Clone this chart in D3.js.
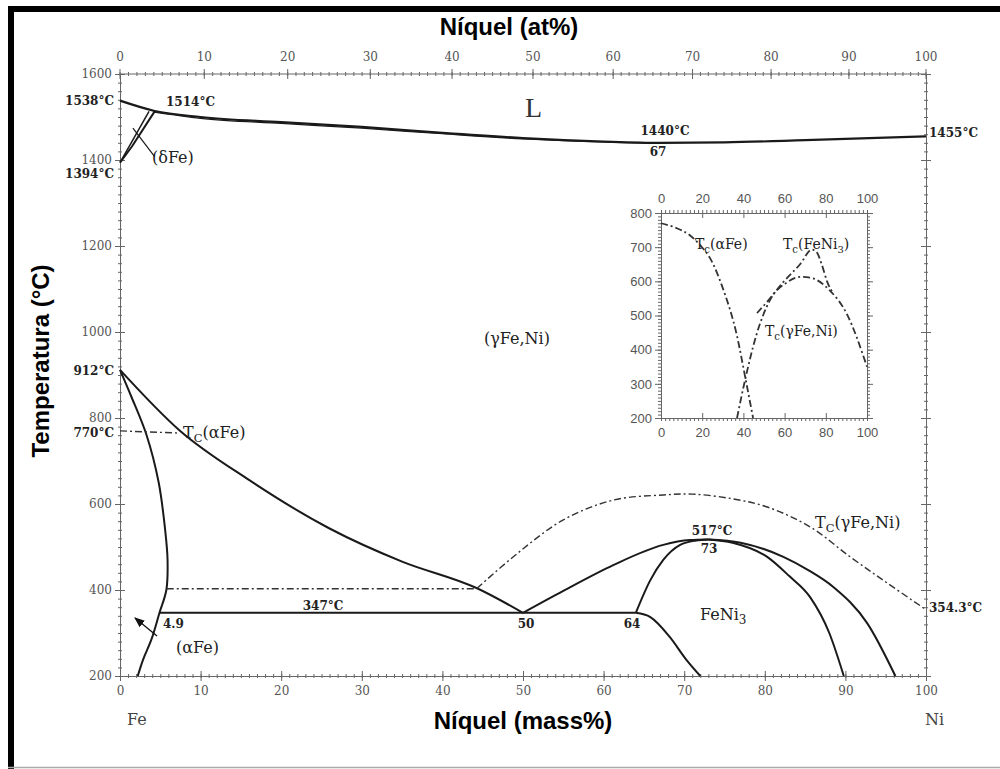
<!DOCTYPE html>
<html><head><meta charset="utf-8">
<script src="https://cdn.jsdelivr.net/npm/d3@7"></script>
<style>body{margin:0;background:#fff}svg{display:block}</style>
</head><body>
<svg id="c" width="1000" height="769"></svg>
<script>
// ---------- data ----------
const massTicks = [0,10,20,30,40,50,60,70,80,90,100];
const atTicks = [0,10,20,30,40,50,60,70,80,90,100];
const tempTicks = [200,400,600,800,1000,1200,1400,1600];
const insetXTicks = [0,20,40,60,80,100];
const insetYTicks = [200,300,400,500,600,700,800];

// solid phase boundaries (mass% Ni, °C)
const liquidus = [[0,1538],[4.3,1514],[10,1500],[20,1488],[30,1477],[40,1463],[50,1451],[60,1443],[67,1440],[75,1441],[85,1446],[100,1455]];
const solidus = [[4.1,1512],[10,1497],[20,1485],[30,1474],[40,1461],[50,1449],[60,1441.5],[67,1439]];
const deltaBoundA = [[3.6,1513],[0,1394]];
const deltaBoundB = [[4.3,1513],[1.5,1432],[0,1394]];
const deltaLeader = [[1.6,1474],[4.3,1408]];
const gammaBound = [[0,912],[7.4,771],[16,656],[26,543],[35,466],[44.3,404],[50,347]];
const alphaBound = [[0,912],[1.4,850],[3.3,760],[4.8,650],[5.6,540],[5.9,470],[5.75,400],[4.9,347],[3.9,285],[2.9,240],[2.2,200]];
const eutectoid = [[4.9,347],[64,347]];
const order50 = [[50,347],[55,398],[61.2,458],[67.4,505],[70.7,516],[73,517.5]];
const order64 = [[64,347],[65.8,423],[67.4,470],[69.5,505],[71.5,515],[73,517.5]];
const lower64 = [[64,347],[65.8,337],[68.2,291],[70.3,237],[72,200]];
const rightInner = [[73,517.5],[76,510],[80.3,477],[83,433],[85.6,384],[88,300],[89.8,200]];
const rightOuter = [[73,517.5],[77,510],[82.3,477],[85.5,445],[88.5,407],[92.7,323],[96.2,200]];
// magnetic (dash-dot)
const tcAlpha = [[0,770],[7.4,765]];
const line400 = [[5.8,403],[44.3,403]];
const tcGamma = [[44.3,404],[49.3,485],[55,563],[61.2,609],[67.4,621],[71,623],[76,612],[80.3,593],[85.6,547],[90.6,477],[95.2,416],[100,354.3]];
// inset (at% Ni, °C)
const insetAlpha = [[0,770],[7,757],[14,735],[19,706],[23.8,668],[30,580],[36.9,440],[40.8,322],[44.7,200]];
const insetGamma = [[36.9,200],[40.8,311],[46.6,449],[52.9,545],[61.2,597],[68,613],[72.3,611],[82,573],[90,507],[100,350]];
const insetFeNi3 = [[46.6,507],[51.5,540],[59.2,597],[67.5,650],[73.3,693],[75.5,686],[78,650],[80.6,600],[83,570]];

// ---------- scales ----------
const svg = d3.select('#c');
const x = d3.scaleLinear().domain([0,100]).range([120,926]);
const y = d3.scaleLinear().domain([200,1600]).range([676,74]);
const at2mass = a => 100*a*58.69/(a*58.69+(100-a)*55.845);
const xi = d3.scaleLinear().domain([0,100]).range([661,867]);
const yi = d3.scaleLinear().domain([200,800]).range([418,213]);
const fmt = d3.format('d');

svg.append('rect').attr('width',1000).attr('height',769).attr('fill','#fff');
// frame
svg.append('rect').attr('x',8).attr('y',6).attr('width',992).attr('height',6).attr('fill','#000');
svg.append('rect').attr('x',8).attr('y',6).attr('width',6).attr('height',763).attr('fill','#000');
svg.append('line').attr('x1',8).attr('x2',1000).attr('y1',767.5).attr('y2',767.5).attr('stroke','#aaa').attr('stroke-width',1.5);

const axCol = '#666';
const tickFont = 'DejaVu Serif';
function crossTicks(g, dir, len){
  g.selectAll('.tick line').attr('stroke',axCol).attr('stroke-width',1);
  if(dir==='h') g.selectAll('.tick line').attr('y1',-len).attr('y2',len);
  else g.selectAll('.tick line').attr('x1',-len).attr('x2',len);
  g.select('.domain').attr('stroke',axCol).attr('stroke-width',1);
  g.selectAll('text').attr('font-family',tickFont).attr('font-size',12).attr('fill','#555');
}
// bottom mass% axis
const gB = svg.append('g').attr('transform','translate(0,676)')
  .call(d3.axisBottom(x).tickValues(d3.range(0,101,1)).tickSize(0).tickFormat(''));
crossTicks(gB,'h',2);
const gB2 = svg.append('g').attr('transform','translate(0,676)')
  .call(d3.axisBottom(x).tickValues(massTicks).tickSize(0).tickPadding(10).tickFormat(fmt));
crossTicks(gB2,'h',5);
// top at% axis
const gT = svg.append('g').attr('transform','translate(0,74)');
gT.append('line').attr('x1',120).attr('x2',926).attr('stroke',axCol);
gT.selectAll('.mn').data(d3.range(0,101,1)).join('line')
  .attr('x1',d=>x(at2mass(d))).attr('x2',d=>x(at2mass(d))).attr('y1',-2).attr('y2',2).attr('stroke',axCol);
gT.selectAll('.mj').data(atTicks).join('line')
  .attr('x1',d=>x(at2mass(d))).attr('x2',d=>x(at2mass(d))).attr('y1',-5).attr('y2',5).attr('stroke',axCol);
gT.selectAll('text').data(atTicks).join('text')
  .attr('x',d=>x(at2mass(d))).attr('y',-13).attr('text-anchor','middle')
  .attr('font-family',tickFont).attr('font-size',12).attr('fill','#555').text(d=>d);
// left axis
const gL = svg.append('g').attr('transform','translate(120,0)')
  .call(d3.axisLeft(y).tickValues(d3.range(200,1601,20)).tickSize(0).tickFormat(''));
crossTicks(gL,'v',2);
const gL2 = svg.append('g').attr('transform','translate(120,0)')
  .call(d3.axisLeft(y).tickValues(tempTicks).tickSize(0).tickPadding(8).tickFormat(fmt));
crossTicks(gL2,'v',5);
// right axis
const gR = svg.append('g').attr('transform','translate(926,0)')
  .call(d3.axisRight(y).tickValues(d3.range(200,1601,20)).tickSize(0).tickFormat(''));
crossTicks(gR,'v',2);
const gR2 = svg.append('g').attr('transform','translate(926,0)')
  .call(d3.axisRight(y).tickValues(tempTicks).tickSize(0).tickFormat(''));
crossTicks(gR2,'v',5);

// ---------- curves ----------
const mkLine = c => d3.line().x(d=>x(d[0])).y(d=>y(d[1])).curve(c);
const lines = {
  mx: mkLine(d3.curveMonotoneX),
  cr: mkLine(d3.curveCatmullRom.alpha(0.5)),
  st: mkLine(d3.curveLinear)
};
function solid(data, w, kind){
  svg.append('path').attr('d',lines[kind||'mx'](data)).attr('fill','none')
    .attr('stroke','#1a1a1a').attr('stroke-width',w||2).attr('stroke-linejoin','round');
}
function dashdot(data, kind){
  svg.append('path').attr('d',lines[kind||'mx'](data)).attr('fill','none')
    .attr('stroke','#333').attr('stroke-width',1.4).attr('stroke-dasharray','7,3,2,3');
}
solid(liquidus,2.2); solid(solidus,1.2);
solid(deltaBoundA,1.5,'st'); solid(deltaBoundB,2,'st');
solid(deltaLeader,1.2,'st');
solid(gammaBound,2); solid(alphaBound,2,'cr');
solid(eutectoid,2,'st');
solid(order50,2); solid(order64,2); solid(lower64,2);
solid(rightInner,2); solid(rightOuter,2);
dashdot(tcAlpha,'st'); dashdot(line400,'st'); dashdot(tcGamma,'cr');

// arrow for (αFe)
svg.append('defs').append('marker').attr('id','ah').attr('viewBox','0 0 10 10').attr('refX',9).attr('refY',5)
  .attr('markerWidth',8).attr('markerHeight',8).attr('orient','auto-start-reverse')
  .append('path').attr('d','M0,1 L10,5 L0,9 Z').attr('fill','#111');
svg.append('line').attr('x1',157).attr('y1',636).attr('x2',135).attr('y2',618)
  .attr('stroke','#111').attr('stroke-width',1.3).attr('marker-end','url(#ah)');

// ---------- labels ----------
const serif = 'DejaVu Serif';
function lab(px,py,t,opt){
  opt=opt||{};
  return svg.append('text').attr('x',px).attr('y',py).attr('text-anchor',opt.anchor||'start')
    .attr('font-family',opt.font||serif).attr('font-size',opt.size||12)
    .attr('font-weight',opt.weight||'bold').attr('fill',opt.fill||'#222').text(t);
}
lab(114,105,'1538°C',{anchor:'end'});
lab(114,178,'1394°C',{anchor:'end'});
lab(114,375,'912°C',{anchor:'end'});
lab(114,437,'770°C',{anchor:'end'});
lab(166,106,'1514°C');
lab(665,135,'1440°C',{anchor:'middle'});
lab(658,156,'67',{anchor:'middle'});
lab(929,137,'1455°C');
lab(929,612,'354.3°C');
lab(323,610,'347°C',{anchor:'middle'});
lab(526,628,'50',{anchor:'middle'});
lab(632,628,'64',{anchor:'middle'});
lab(163,628,'4.9');
lab(712,535,'517°C',{anchor:'middle'});
lab(709,553,'73',{anchor:'middle'});
lab(525,117,'L',{size:28,weight:'normal',font:'Liberation Serif',fill:'#333'});
lab(152,163,'(δFe)',{size:16,weight:'normal'});
lab(176,653,'(αFe)',{size:16,weight:'normal'});
lab(484,344,'(γFe,Ni)',{size:16,weight:'normal'});
const fe3 = lab(700,620,'FeNi',{size:16,weight:'normal'});
fe3.append('tspan').attr('dy',4).attr('font-size',12).text('3');
function tcLabel(px,py,rest,size,sub){
  const t = lab(px,py,'T',{size:size,weight:'normal'});
  t.append('tspan').attr('dy',4).attr('font-size',size*0.72).text(sub||'C');
  t.append('tspan').attr('dy',-4).text(rest);
  return t;
}
tcLabel(183,438,'(αFe)',16);
tcLabel(815,528,'(γFe,Ni)',16);
lab(127,725,'Fe',{size:16,weight:'normal',fill:'#444'});
lab(925,725,'Ni',{size:16,weight:'normal',fill:'#444'});

// axis titles
const sans = 'Liberation Sans';
lab(509,35,'Níquel (at%)',{anchor:'middle',font:sans,size:24,fill:'#000'});
lab(523,729,'Níquel (mass%)',{anchor:'middle',font:sans,size:24,fill:'#000'});
svg.append('text').attr('transform','translate(49,361) rotate(-90)').attr('text-anchor','middle')
  .attr('font-family',sans).attr('font-size',24).attr('font-weight','bold').text('Temperatura (°C)');

// ---------- inset ----------
const gi = svg.append('g');
const ax2 = (g)=>{g.select('.domain').attr('stroke',axCol);g.selectAll('.tick line').attr('stroke',axCol);
  g.selectAll('text').attr('font-family','Liberation Sans').attr('font-size',13).attr('fill','#555');};
gi.append('g').attr('transform','translate(0,418)').call(d3.axisBottom(xi).tickValues(d3.range(0,101,2)).tickSize(3).tickSizeOuter(0).tickFormat('')).call(ax2);
gi.append('g').attr('transform','translate(0,418)').call(d3.axisBottom(xi).tickValues(insetXTicks).tickSize(-5).tickSizeOuter(0).tickPadding(10)).call(ax2);
gi.append('g').attr('transform','translate(0,213)').call(d3.axisTop(xi).tickValues(d3.range(0,101,2)).tickSize(3).tickSizeOuter(0).tickFormat('')).call(ax2);
gi.append('g').attr('transform','translate(0,213)').call(d3.axisTop(xi).tickValues(insetXTicks).tickSize(-5).tickSizeOuter(0).tickPadding(10)).call(ax2);
gi.append('g').attr('transform','translate(661,0)').call(d3.axisLeft(yi).tickValues(d3.range(200,801,10)).tickSize(3).tickSizeOuter(0).tickFormat('')).call(ax2);
gi.append('g').attr('transform','translate(661,0)').call(d3.axisLeft(yi).tickValues(insetYTicks).tickSize(6).tickSizeOuter(0).tickPadding(3)).call(ax2);
gi.append('g').attr('transform','translate(867,0)').call(d3.axisRight(yi).tickValues(d3.range(200,801,10)).tickSize(3).tickSizeOuter(0).tickFormat('')).call(ax2);
gi.append('g').attr('transform','translate(867,0)').call(d3.axisRight(yi).tickValues(insetYTicks).tickSize(6).tickSizeOuter(0).tickFormat('')).call(ax2);
const lineI = d3.line().x(d=>xi(d[0])).y(d=>yi(d[1])).curve(d3.curveMonotoneX);
[insetAlpha,insetGamma,insetFeNi3].forEach(dd=>{
  gi.append('path').attr('d',lineI(dd)).attr('fill','none').attr('stroke','#333')
    .attr('stroke-width',1.8).attr('stroke-dasharray','7,3,2,3');
});
tcLabel(695,249,'(αFe)',14,'c');
const t2 = tcLabel(783,249,'(FeNi',14,'c');
t2.append('tspan').attr('dy',4).attr('font-size',10).text('3');
t2.append('tspan').attr('dy',-4).text(')');
tcLabel(765,336,'(γFe,Ni)',14,'c');
</script>
</body></html>
